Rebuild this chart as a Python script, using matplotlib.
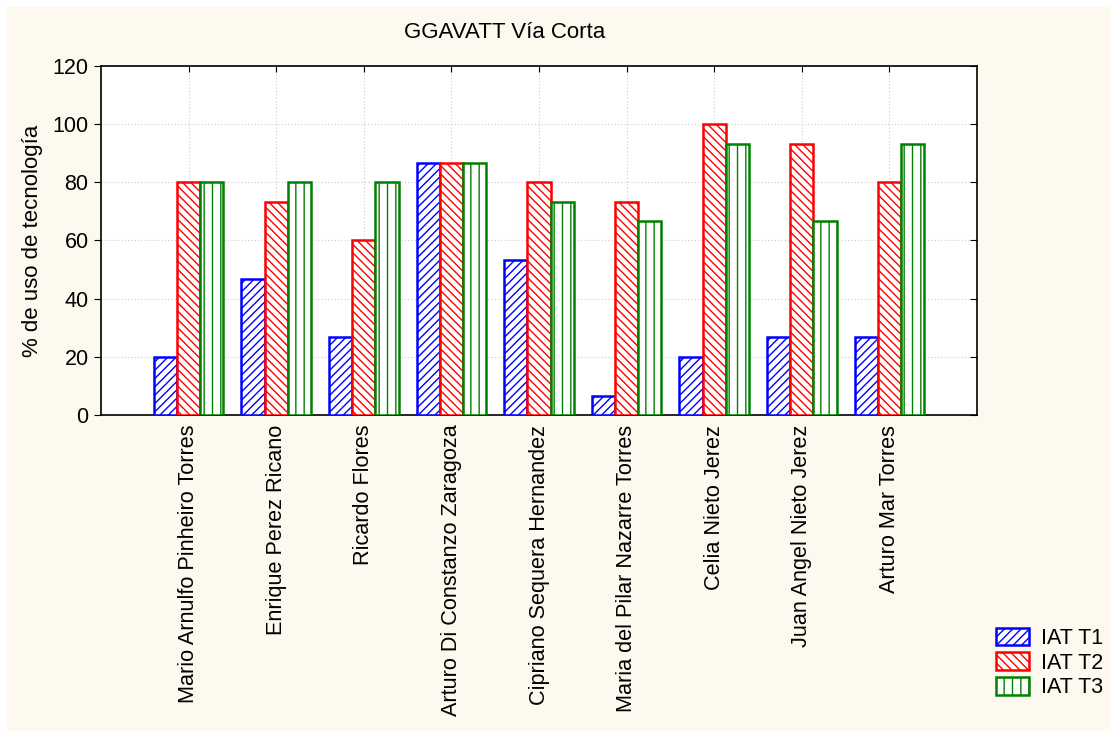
import matplotlib
matplotlib.use("Agg")
import matplotlib.pyplot as plt
from matplotlib.patches import Rectangle
import numpy as np

plt.rcParams['font.family'] = ['Liberation Sans', 'DejaVu Sans']
plt.rcParams['hatch.linewidth'] = 1.0

categories = ["Mario Arnulfo Pinheiro Torres", "Enrique Perez Ricano", "Ricardo Flores",
              "Arturo Di Constanzo Zaragoza", "Cipriano Sequera Hernandez",
              "Maria del Pilar Nazarre Torres", "Celia Nieto Jerez",
              "Juan Angel Nieto Jerez", "Arturo Mar Torres"]
t1 = [20, 46.67, 26.67, 86.67, 53.33, 6.67, 20, 26.67, 26.67]
t2 = [80, 73.33, 60, 86.67, 80, 73.33, 100, 93.33, 80]
t3 = [80, 80, 80, 86.67, 73.33, 66.67, 93.33, 66.67, 93.33]
series_names = ["IAT T1", "IAT T2", "IAT T3"]
yticks = [0, 20, 40, 60, 80, 100, 120]

cream = "#fdf9ee"
fig = plt.figure(figsize=(11.11, 7.31), dpi=100, facecolor="white")
fig.patches.append(Rectangle((7/1111, 0), 1 - 7/1111, 1 - 7/731, transform=fig.transFigure,
                             facecolor=cream, edgecolor="none", zorder=-10))

ax = fig.add_axes([101/1111, 1 - 415/731, (977 - 101)/1111, (415 - 66)/731])
ax.set_facecolor("white")

x = np.arange(1, len(categories) + 1)
w = 0.265
styles = [("blue", "////"), ("red", "\\\\\\\\"), ("green", "||")]
for i, (vals, (col, hatch), name) in enumerate(zip([t1, t2, t3], styles, series_names)):
    ax.bar(x + (i - 1) * w, vals, width=w, facecolor="white", edgecolor=col,
           hatch=hatch, linewidth=1.8, label=name, zorder=3)

ax.set_xlim(0, 10)
ax.set_ylim(0, 120)
ax.set_yticks(yticks)
ax.set_xticks(x)
ax.set_xticklabels(categories, rotation=90, fontsize=15.6)
ax.tick_params(axis='y', labelsize=15.5, direction='out', length=5, right=True, pad=4)
ax.tick_params(axis='x', direction='in', length=4, top=True, pad=7)
for t in ax.yaxis.get_major_ticks():
    t.tick2line.set_marker(matplotlib.lines.TICKLEFT)
ax.grid(True, linestyle=(0, (1, 2)), color="#cccccc", linewidth=0.8, zorder=0)
for s in ax.spines.values():
    s.set_linewidth(1.2)

ax.set_ylabel("% de uso de tecnología", fontsize=16, labelpad=7)
fig.text(505/1111, 1 - 33/731, "GGAVATT Vía Corta", ha="center", va="center", fontsize=16)

fig.legend(loc="upper left", bbox_to_anchor=(987/1111, 1 - 619/731), frameon=False,
           fontsize=15.5, handlelength=1.55, handleheight=0.9, labelspacing=0.15,
           handletextpad=0.55, borderaxespad=0)

fig.savefig("out.png", dpi=100, facecolor=fig.get_facecolor())
